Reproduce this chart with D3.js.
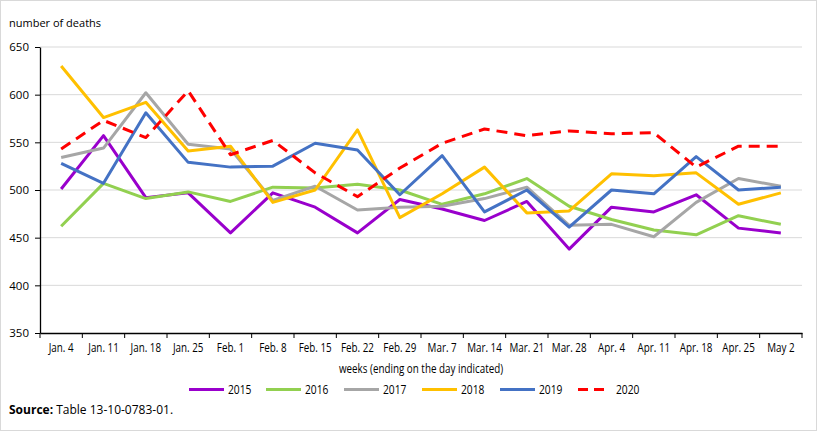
<!DOCTYPE html>
<html><head><meta charset="utf-8">
<script src="https://cdn.jsdelivr.net/npm/d3@7"></script>
<style>body{margin:0;background:#fff}svg{display:block}</style>
</head><body><svg id="c" width="817" height="431"></svg>
<script>
const weeks = ["Jan. 4","Jan. 11","Jan. 18","Jan. 25","Feb. 1","Feb. 8","Feb. 15","Feb. 22","Feb. 29","Mar. 7","Mar. 14","Mar. 21","Mar. 28","Apr. 4","Apr. 11","Apr. 18","Apr. 25","May 2"];
const y2015 = [501,557,492,497,455,497,482,455,490,480,468,488,438,482,477,495,460,455];
const y2016 = [462,507,491,498,488,503,502,506,500,485,496,512,483,469,458,453,473,464];
const y2017 = [534,544,602,548,543,489,504,479,482,483,491,503,463,464,451,487,512,504];
const y2018 = [630,576,592,541,546,487,500,563,471,496,524,476,478,517,515,518,485,497];
const y2019 = [528,507,581,529,524,525,549,542,495,536,477,500,461,500,496,535,500,503];
const y2020 = [543,573,555,604,537,552,518,493,523,549,564,557,562,559,560,524,546,546];
const yTicks = [350,400,450,500,550,600,650];
const series = [
  {name:"2015", values:y2015, color:"#9900CC", dash:null},
  {name:"2016", values:y2016, color:"#92D050", dash:null},
  {name:"2017", values:y2017, color:"#A6A6A6", dash:null},
  {name:"2018", values:y2018, color:"#FFC000", dash:null},
  {name:"2019", values:y2019, color:"#4472C4", dash:null},
  {name:"2020", values:y2020, color:"#FF0000", dash:"11,7"}
];
const svg = d3.select("#c");
const L=40, R=802, T=47, B=333;
svg.append("rect").attr("x",0.5).attr("y",0.5).attr("width",816).attr("height",430).attr("fill","#fff").attr("stroke","#d9d9d9");
const x = d3.scaleBand().domain(weeks).range([L,R]);
const y = d3.scaleLinear().domain([350,650]).range([B,T]);
const font2 = "'Open Sans','DejaVu Sans',sans-serif";
const SX = 0.82;
// gridlines
svg.append("g").selectAll("line").data(yTicks.filter(d=>d>350)).join("line")
  .attr("x1",L).attr("x2",R).attr("y1",d=>y(d)).attr("y2",d=>y(d))
  .attr("stroke","#d9d9d9").attr("stroke-width",1);
// y axis
const ya = svg.append("g").attr("transform",`translate(${L},0)`)
  .call(d3.axisLeft(y).tickValues(yTicks).tickSize(5).tickSizeOuter(0).tickPadding(6));
ya.select(".domain").attr("stroke","#000").attr("stroke-width",1.3);
ya.selectAll(".tick line").attr("stroke","#000");
ya.selectAll("text").attr("font-family",font2).attr("font-size",11.5).attr("fill","#000");
// x axis
const xa = svg.append("g").attr("transform",`translate(0,${B})`)
  .call(d3.axisBottom(x).tickSize(0).tickSizeOuter(0).tickPadding(10));
xa.select(".domain").attr("stroke","#000").attr("stroke-width",1.3);
xa.selectAll("text").attr("font-family",font2).attr("font-size",12).attr("fill","#000")
  .attr("transform",`scale(${SX},1)`);
svg.append("g").selectAll("line").data(d3.range(weeks.length+1)).join("line")
  .attr("x1",i=>L+i*x.step()).attr("x2",i=>L+i*x.step()).attr("y1",B).attr("y2",B+5)
  .attr("stroke","#000");
// lines
const line = d3.line().x((d,i)=>x(weeks[i])+x.bandwidth()/2).y(d=>y(d));
series.forEach(s=>{
  svg.append("path").datum(s.values).attr("d",line).attr("fill","none")
    .attr("stroke",s.color).attr("stroke-width",3).attr("stroke-linejoin","round")
    .attr("stroke-dasharray",s.dash);
});
// titles
svg.append("text").attr("x",9).attr("y",27).text("number of deaths")
  .attr("font-family",font2).attr("font-size",11).attr("fill","#000");
svg.append("g").attr("transform",`translate(421,373) scale(${SX},1)`)
  .append("text").attr("text-anchor","middle").attr("font-family",font2)
  .text("weeks (ending on the day indicated)").attr("font-size",12).attr("fill","#000");
// legend
const lx = [189,266,344,422,500,578];
series.forEach((s,i)=>{
  const g = svg.append("g").attr("transform",`translate(${lx[i]},389.5)`);
  g.append("line").attr("x1",0).attr("x2",s.dash?32:35).attr("y1",0).attr("y2",0)
    .attr("stroke",s.color).attr("stroke-width",3).attr("stroke-dasharray",s.dash?"10,6":null);
  g.append("g").attr("transform",`translate(${s.dash?38:39},4) scale(${SX},1)`)
    .append("text").text(s.name).attr("font-family",font2)
    .attr("font-size",12.5).attr("fill","#000");
});
const src = svg.append("text").attr("x",9).attr("y",414).attr("font-family",font2).attr("font-size",12).attr("fill","#000");
src.append("tspan").attr("font-weight","bold").text("Source:");
src.append("tspan").text(" Table 13-10-0783-01.");
</script></body></html>
